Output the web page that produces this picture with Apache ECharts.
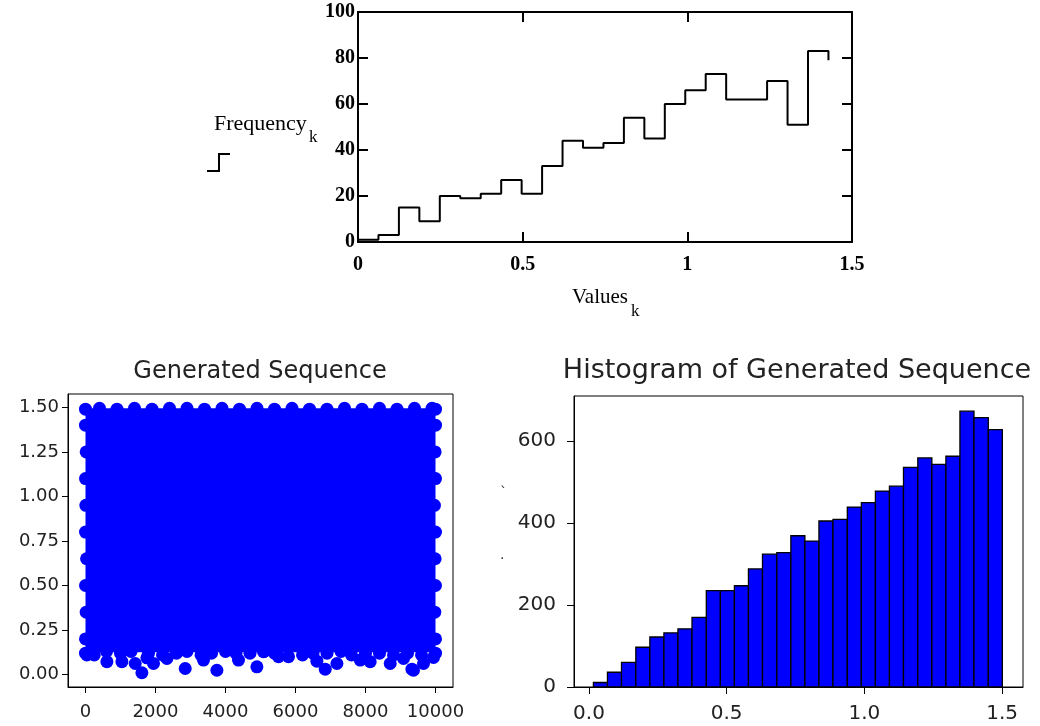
<!DOCTYPE html>
<html>
<head>
<meta charset="utf-8">
<script src="https://cdn.jsdelivr.net/npm/echarts@6/dist/echarts.min.js"></script>
<style>
  html, body { margin: 0; padding: 0; background: #fff; }
  #main { width: 1040px; height: 726px; }
</style>
</head>
<body>
<div id="main"></div>
<script>
// top panel: Mathcad step trace of Frequency_k against Values_k
var valuesK = [0, 0.0621, 0.1242, 0.1863, 0.2484, 0.3105, 0.3727, 0.4348, 0.4969, 0.559, 0.6211, 0.6832,
  0.7453, 0.8074, 0.8695, 0.9316, 0.9937, 1.0558, 1.1179, 1.18, 1.2422, 1.3043, 1.3664, 1.4285];
var frequencyK = [1, 3, 15, 9, 20, 19, 21, 27, 21, 33, 44, 41, 43, 54, 45, 60, 66, 73, 62, 62, 70, 51, 83, 79];
var topXTicks = [0, 0.5, 1, 1.5];
var topYTicks = [0, 20, 40, 60, 80, 100];

// bottom left: the generated sequence, a solid cloud of points plus the loose ones at its edges
var cloudX = [0, 10000];
var cloudY = [0.125, 1.495];
var looseX = [611, 1040, 1420, 1611, 1754, 1943, 2326, 2849, 3371, 3754, 4371, 4897, 5086, 5514, 6611, 6849,
  7183, 7849, 8134, 8706, 9086, 9326, 9371, 9657, 9943, 40];
var looseY = [0.072, 0.072, 0.062, 0.01, 0.094, 0.062, 0.09, 0.034, 0.081, 0.024, 0.081, 0.043, 0.128, 0.1,
  0.075, 0.03, 0.062, 0.081, 0.072, 0.062, 0.09, 0.03, 0.024, 0.062, 0.096, 0.11];
var edgeX = [0, 250, 600, 1000, 1300, 1800, 2200, 2600, 2900, 3300, 3600, 4000, 4300, 4700, 5100, 5400, 5800,
  6200, 6500, 6900, 7300, 7600, 8000, 8400, 8800, 9200, 9600, 10000,
  0, 400, 900, 1400, 1900, 2400, 2900, 3400, 3900, 4400, 4900, 5400, 5900, 6400, 6900, 7400, 7900, 8400,
  8900, 9400, 9900, 10000,
  0, 20, 0, 30, 0, 10, 0, 20, 0, 10000, 9980, 10000, 9990, 10000, 9970, 10000, 9990, 10000];
var edgeY = [0.12, 0.11, 0.13, 0.12, 0.13, 0.12, 0.11, 0.12, 0.13, 0.11, 0.12, 0.13, 0.12, 0.12, 0.13, 0.12,
  0.10, 0.11, 0.12, 0.12, 0.13, 0.11, 0.12, 0.12, 0.11, 0.12, 0.11, 0.12,
  1.49, 1.495, 1.49, 1.495, 1.49, 1.495, 1.495, 1.49, 1.495, 1.49, 1.495, 1.49, 1.495, 1.49, 1.49, 1.495,
  1.49, 1.495, 1.49, 1.495, 1.495, 1.49,
  0.2, 0.35, 0.5, 0.65, 0.8, 0.95, 1.1, 1.25, 1.4, 0.2, 0.35, 0.5, 0.65, 0.8, 0.95, 1.1, 1.25, 1.4];
var seqXTicks = [0, 2000, 4000, 6000, 8000, 10000];
var seqYTicks = [0, 0.25, 0.5, 0.75, 1, 1.25, 1.5];

// bottom right: histogram of the generated sequence
var binEdges = [0.016, 0.067, 0.118, 0.170, 0.221, 0.272, 0.323, 0.374, 0.426, 0.477, 0.528, 0.579, 0.630,
  0.682, 0.733, 0.784, 0.835, 0.886, 0.938, 0.989, 1.040, 1.091, 1.142, 1.194, 1.245, 1.296, 1.347, 1.398,
  1.450, 1.501];
var binCounts = [11, 36, 60, 97, 122, 132, 142, 170, 235, 235, 247, 288, 324, 328, 369, 356, 405, 409, 439,
  450, 478, 490, 536, 559, 543, 563, 673, 657, 628];
var histXTicks = [0, 0.5, 1, 1.5];
var histYTicks = [0, 200, 400, 600];

var chart = echarts.init(document.getElementById('main'));

var serif = 'Liberation Serif';
var sans = 'DejaVu Sans';

function pairs(xs, ys) {
  return xs.map(function (x, i) { return [x, ys[i]]; });
}

var histData = binCounts.map(function (c, i) { return [binEdges[i], binEdges[i + 1], c]; });

var mcLabel = { fontFamily: serif, fontWeight: 'bold', fontSize: 20, color: '#000' };
var mplLabel = { fontFamily: sans, fontSize: 18, color: '#222' };
var histLabel = { fontFamily: sans, fontSize: 20, color: '#222' };

option = {
  animation: false,
  backgroundColor: '#fff',
  grid: [
    { left: 358, top: 12, width: 494, height: 230 },
    { left: 68, top: 394, width: 385, height: 293, show: true, borderColor: '#000', borderWidth: 1 },
    { left: 574, top: 396, width: 449, height: 291, show: true, borderColor: '#000', borderWidth: 1 }
  ],
  xAxis: [
    {
      gridIndex: 0, type: 'value', min: 0, max: 1.5, position: 'bottom',
      axisLine: { onZero: false, lineStyle: { color: '#000', width: 2 } },
      axisTick: { inside: true, length: 10, lineStyle: { color: '#000', width: 2 }, customValues: topXTicks },
      axisLabel: Object.assign({ margin: 13, customValues: topXTicks, formatter: function (v) { return String(v); } }, mcLabel),
      splitLine: { show: false }
    },
    {
      gridIndex: 0, type: 'value', min: 0, max: 1.5, position: 'top',
      axisLine: { onZero: false, lineStyle: { color: '#000', width: 2 } },
      axisTick: { inside: true, length: 10, lineStyle: { color: '#000', width: 2 }, customValues: topXTicks },
      axisLabel: { show: false },
      splitLine: { show: false }
    },
    {
      gridIndex: 1, type: 'value', min: -500, max: 10500,
      axisLine: { onZero: false, lineStyle: { color: '#000', width: 1 } },
      axisTick: { length: 6, lineStyle: { color: '#000' }, customValues: seqXTicks },
      axisLabel: Object.assign({ margin: 16, customValues: seqXTicks, formatter: function (v) { return String(v); } }, mplLabel),
      splitLine: { show: false }
    },
    {
      gridIndex: 2, type: 'value', min: -0.0545, max: 1.576,
      axisLine: { onZero: false, lineStyle: { color: '#000', width: 1 } },
      axisTick: { length: 7, lineStyle: { color: '#000' }, customValues: histXTicks },
      axisLabel: Object.assign({ margin: 17, customValues: histXTicks, formatter: function (v) { return v.toFixed(1); } }, histLabel),
      splitLine: { show: false }
    }
  ],
  yAxis: [
    {
      gridIndex: 0, type: 'value', min: 0, max: 100, position: 'left',
      axisLine: { onZero: false, lineStyle: { color: '#000', width: 2 } },
      axisTick: { inside: true, length: 10, lineStyle: { color: '#000', width: 2 }, customValues: topYTicks },
      axisLabel: Object.assign({ margin: 3, customValues: topYTicks }, mcLabel),
      splitLine: { show: false }
    },
    {
      gridIndex: 0, type: 'value', min: 0, max: 100, position: 'right',
      axisLine: { onZero: false, lineStyle: { color: '#000', width: 2 } },
      axisTick: { inside: true, length: 10, lineStyle: { color: '#000', width: 2 }, customValues: topYTicks },
      axisLabel: { show: false },
      splitLine: { show: false }
    },
    {
      gridIndex: 1, type: 'value', min: -0.07, max: 1.575,
      axisLine: { show: true, onZero: false, lineStyle: { color: '#000', width: 1 } },
      axisTick: { show: true, length: 6, lineStyle: { color: '#000' }, customValues: seqYTicks },
      axisLabel: Object.assign({ margin: 9, customValues: seqYTicks, formatter: function (v) { return v.toFixed(2); } }, mplLabel),
      splitLine: { show: false }
    },
    {
      gridIndex: 2, type: 'value', min: 0, max: 710,
      axisLine: { show: true, onZero: false, lineStyle: { color: '#000', width: 1 } },
      axisTick: { show: true, length: 7, lineStyle: { color: '#000' }, customValues: histYTicks },
      axisLabel: Object.assign({ margin: 18, customValues: histYTicks }, histLabel),
      splitLine: { show: false }
    }
  ],
  series: [
    {
      name: 'Frequency', type: 'line', xAxisIndex: 0, yAxisIndex: 0, step: 'end',
      symbol: 'none', lineStyle: { color: '#000', width: 2 },
      data: pairs(valuesK, frequencyK)
    },
    {
      name: 'cloud', type: 'scatter', xAxisIndex: 2, yAxisIndex: 2,
      symbolSize: 13, itemStyle: { color: '#0000ff', opacity: 1 },
      data: pairs(edgeX, edgeY).concat(pairs(looseX, looseY)),
      markArea: {
        silent: true,
        itemStyle: { color: '#0000ff', opacity: 1 },
        data: [[{ coord: [cloudX[0], cloudY[0]] }, { coord: [cloudX[1], cloudY[1]] }]]
      }
    },
    {
      name: 'hist', type: 'custom', xAxisIndex: 3, yAxisIndex: 3,
      data: histData,
      renderItem: function (params, api) {
        var p0 = api.coord([api.value(0), api.value(2)]);
        var p1 = api.coord([api.value(1), 0]);
        return {
          type: 'rect',
          shape: { x: p0[0], y: p0[1], width: p1[0] - p0[0], height: p1[1] - p0[1] },
          style: { fill: '#0000ff', stroke: '#000', lineWidth: 1.3 }
        };
      }
    }
  ],
  graphic: [
    { type: 'text', left: 214, top: 113, style: { text: 'Frequency', font: '22px "Liberation Serif"', fill: '#000' } },
    { type: 'text', left: 309, top: 129, style: { text: 'k', font: '17px "Liberation Serif"', fill: '#000' } },
    { type: 'polyline', shape: { points: [[207, 171], [219, 171], [219, 154], [230, 154]] }, style: { stroke: '#000', lineWidth: 2, fill: null } },
    { type: 'text', left: 572, top: 287, style: { text: 'Values', font: '21px "Liberation Serif"', fill: '#000' } },
    { type: 'text', left: 631, top: 303, style: { text: 'k', font: '17px "Liberation Serif"', fill: '#000' } },
    { type: 'text', x: 260, y: 372, style: { text: 'Generated Sequence', font: '24px "DejaVu Sans"', fill: '#222', textAlign: 'center', textVerticalAlign: 'middle' } },
    { type: 'text', x: 797, y: 371, style: { text: 'Histogram of Generated Sequence', font: '27px "DejaVu Sans"', fill: '#222', textAlign: 'center', textVerticalAlign: 'middle' } },
    { type: 'text', left: 500, top: 486, style: { text: '`', font: '14px "DejaVu Sans"', fill: '#333' } },
    { type: 'text', left: 500, top: 548, style: { text: '.', font: '14px "DejaVu Sans"', fill: '#333' } }
  ]
};
chart.setOption(option);
</script>
</body>
</html>
